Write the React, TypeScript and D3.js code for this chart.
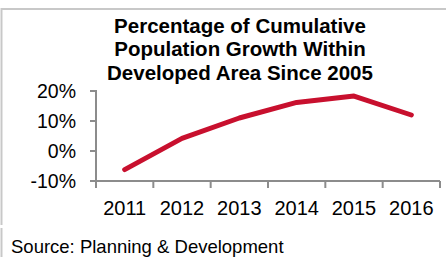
import React from "react";
import * as d3 from "d3";

const years = ["2011", "2012", "2013", "2014", "2015", "2016"];
const growth = [-6.2, 4.2, 11, 16.2, 18.3, 12];
const yTicks = [-10, 0, 10, 20];
const titleLines = [
  "Percentage of Cumulative",
  "Population Growth Within",
  "Developed Area Since 2005",
];
const source = "Source: Planning & Development";

const font = "'Liberation Sans', Arial, sans-serif";

export default function App() {
  const width = 446;
  const height = 257;
  const margin = { top: 91, right: 6, bottom: 76, left: 96 };

  const x = d3
    .scaleBand()
    .domain(years)
    .range([margin.left, width - margin.right]);
  const y = d3
    .scaleLinear()
    .domain([-10, 20])
    .range([height - margin.bottom, margin.top]);

  const line = d3
    .line<number>()
    .x((d, i) => (x(years[i]) as number) + x.bandwidth() / 2)
    .y((d) => y(d));

  const axisColor = "#8c8c8c";
  const x0 = margin.left;
  const yBase = y(-10);
  const bounds = [...years.map((yr) => x(yr) as number), x.range()[1]];

  return (
    <svg
      width={width}
      height={height}
      style={{ position: "absolute", left: 0, top: 0 }}
      fontFamily={font}
    >
      <rect width={width} height={height} fill="#fff" />
      {/* frame */}
      <line x1={1} x2={width} y1={9} y2={9} stroke="#c8c8c8" strokeWidth={2} />
      <line x1={1.5} x2={1.5} y1={8} y2={225} stroke="#c8c8c8" strokeWidth={2} />
      <line x1={1.5} x2={1.5} y1={228} y2={height} stroke="#c8c8c8" strokeWidth={2} />

      {/* title */}
      {titleLines.map((t, i) => (
        <text
          key={t}
          x={240}
          y={32.5 + i * 23.8}
          textAnchor="middle"
          fontWeight="bold"
          fontSize={20.5}
          fill="#000"
        >
          {t}
        </text>
      ))}

      {/* y axis */}
      <line x1={x0} x2={x0} y1={y(20) - 1} y2={yBase + 1} stroke={axisColor} strokeWidth={2} />
      {yTicks.map((t) => (
        <g key={t}>
          <line x1={x0 - 6} x2={x0} y1={y(t)} y2={y(t)} stroke={axisColor} strokeWidth={2} />
          <text
            x={76}
            y={y(t)}
            dy="0.36em"
            textAnchor="end"
            fontSize={19.5}
            fill="#000"
          >
            {t}%
          </text>
        </g>
      ))}

      {/* x axis */}
      <line x1={x0} x2={x.range()[1]} y1={yBase} y2={yBase} stroke={axisColor} strokeWidth={2} />
      {bounds.map((b, i) => (
        <line key={i} x1={b} x2={b} y1={yBase} y2={yBase + 7} stroke={axisColor} strokeWidth={2} />
      ))}
      {years.map((yr) => (
        <text
          key={yr}
          x={(x(yr) as number) + x.bandwidth() / 2}
          y={215}
          textAnchor="middle"
          fontSize={20}
          fill="#000"
        >
          {yr}
        </text>
      ))}

      {/* series */}
      <path
        d={line(growth) || ""}
        fill="none"
        stroke="#c8102e"
        strokeWidth={5}
        strokeLinecap="round"
        strokeLinejoin="round"
      />

      <text x={11} y={253} fontSize={18.5} fill="#000">
        {source}
      </text>
    </svg>
  );
}
